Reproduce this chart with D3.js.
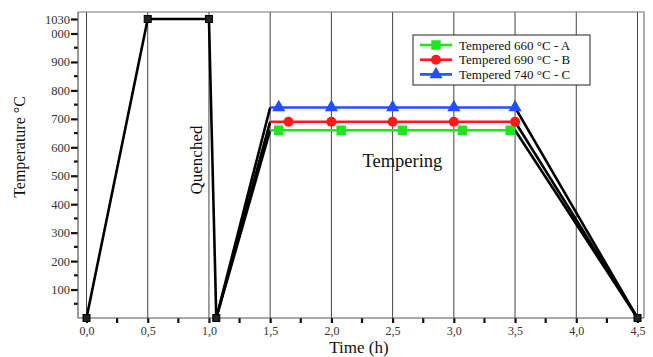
<!DOCTYPE html>
<html>
<head>
<meta charset="utf-8">
<script src="https://cdn.jsdelivr.net/npm/d3@7"></script>
<style>
  body { margin: 0; background: #fff; }
  svg { display: block; font-family: "Liberation Serif", "DejaVu Serif", serif; }
  .tick text { font-family: "Liberation Serif", "DejaVu Serif", serif; }
</style>
</head>
<body>
<div id="chart"></div>
<script>
// furnace profile (black line): heat up, soak, quench
var baseTime = [0, 0.5, 1.0, 1.06];
var baseTemp = [0, 1030, 1030, 0];
// tempering series
var seriesNames = ['Tempered 660 °C - A', 'Tempered 690 °C - B', 'Tempered 740 °C - C'];
var seriesTemps = [660, 690, 740];
var seriesColors = ['#1ee61e', '#ff1a1a', '#1f4fff'];
var seriesShapes = ['square', 'circle', 'triangle'];
var temperStart = 1.5, temperEnd = 3.5, coolEnd = 4.5;
var markerTimes = [
  [1.57, 2.08, 2.58, 3.07, 3.46],
  [1.65, 2.0, 2.5, 3.0, 3.5],
  [1.57, 2.0, 2.5, 3.0, 3.5]
];
// axis ticks
var xTicks = [0, 0.5, 1.0, 1.5, 2.0, 2.5, 3.0, 3.5, 4.0, 4.5];
var xMinor = [0.25, 0.75, 1.25, 1.75, 2.25, 2.75, 3.25, 3.75, 4.25];
var yTicks = [100, 200, 300, 400, 500, 600, 700, 800, 900, 1000, 1030];
var yMinor = [50, 150, 250, 350, 450, 550, 650, 750, 850, 950];

var W = 653, H = 357;
var pLeft = 78, pRight = 644, pTop = 12, pBottom = 318;

var svg = d3.select('#chart').append('svg')
  .attr('width', W).attr('height', H);
svg.append('rect').attr('width', W).attr('height', H).attr('fill', '#fff');

var x = d3.scaleLinear().domain([0, 4.5]).range([86.5, 637.5]);
// top of the axis is stretched in the original (1030 sits above 1000 more than it should)
var y = d3.scaleLinear().domain([0, 1000, 1030, 1044]).range([pBottom, 33.5, 19, pTop]);

// vertical gridlines
svg.append('g').selectAll('line').data(xTicks).join('line')
  .attr('x1', function(d){return x(d);}).attr('x2', function(d){return x(d);})
  .attr('y1', pTop).attr('y2', pBottom)
  .attr('stroke', '#444').attr('stroke-width', 1);

// frame top + right
svg.append('path')
  .attr('d', 'M' + pLeft + ',' + pTop + 'H' + pRight + 'V' + pBottom)
  .attr('fill', 'none').attr('stroke', '#777').attr('stroke-width', 1.2);

// x axis
var xAxis = svg.append('g').attr('transform', 'translate(0,' + pBottom + ')')
  .call(d3.axisBottom(x).tickValues(xTicks).tickSize(5).tickPadding(3)
    .tickFormat(function(d){return d3.format('.1f')(d).replace('.', ',');}));
xAxis.attr('font-family', null);
xAxis.select('.domain').remove();
xAxis.selectAll('.tick line').attr('stroke', '#111').attr('stroke-width', 2.2);
xAxis.selectAll('.tick text').attr('font-size', 12).attr('fill', '#333');
svg.append('g').selectAll('line').data(xMinor).join('line')
  .attr('x1', function(d){return x(d);}).attr('x2', function(d){return x(d);})
  .attr('y1', pBottom).attr('y2', pBottom + 5)
  .attr('stroke', '#111').attr('stroke-width', 2.2);
svg.append('line').attr('x1', pLeft).attr('x2', pRight).attr('y1', pBottom).attr('y2', pBottom)
  .attr('stroke', '#555').attr('stroke-width', 1.2);

// y axis
var yAxis = svg.append('g').attr('transform', 'translate(' + pLeft + ',0)')
  .call(d3.axisLeft(y).tickValues(yTicks).tickSize(7).tickPadding(1).tickFormat(d3.format('d')));
yAxis.attr('font-family', null);
yAxis.select('.domain').remove();
yAxis.selectAll('.tick line').attr('stroke', '#111').attr('stroke-width', 2.2);
yAxis.selectAll('.tick text').attr('font-size', 12.5).attr('fill', '#333');
// the "1" of 1000 is hidden in the original
yAxis.append('defs').append('clipPath').attr('id', 'cut1000')
  .append('rect').attr('x', -26.5).attr('y', -20).attr('width', 26.5).attr('height', 40);
yAxis.selectAll('.tick').filter(function(d){return d == 1000;}).select('text')
  .attr('clip-path', 'url(#cut1000)');
svg.append('g').selectAll('line').data(yMinor).join('line')
  .attr('x1', pLeft - 4).attr('x2', pLeft)
  .attr('y1', function(d){return y(d);}).attr('y2', function(d){return y(d);})
  .attr('stroke', '#111').attr('stroke-width', 2.2);
svg.append('line').attr('x1', pLeft).attr('x2', pLeft).attr('y1', pTop).attr('y2', pBottom)
  .attr('stroke', '#555').attr('stroke-width', 1.2);

var line = d3.line().x(function(d){return x(d[0]);}).y(function(d){return y(d[1]);});

// black profile lines
var blackLines = [d3.zip(baseTime, baseTemp)];
seriesTemps.forEach(function(t){
  blackLines.push([[baseTime[baseTime.length-1], 0], [temperStart, t]]);
  blackLines.push([[temperEnd, t], [coolEnd, 0]]);
});
svg.append('g').selectAll('path').data(blackLines).join('path')
  .attr('d', line).attr('fill', 'none')
  .attr('stroke', '#000').attr('stroke-width', 2.6).attr('stroke-linejoin', 'round');

var blackPts = d3.zip(baseTime, baseTemp).concat([[coolEnd, 0]]);
svg.append('g').selectAll('rect').data(blackPts).join('rect')
  .attr('x', function(d){return x(d[0]) - 3.5;}).attr('y', function(d){return y(d[1]) - 3.5;})
  .attr('width', 7).attr('height', 7)
  .attr('fill', '#222').attr('stroke', '#000').attr('stroke-width', 1);

// marker symbols
function symbolPath(shape) {
  if (shape == 'square') return d3.symbol(d3.symbolSquare, 90)();
  if (shape == 'circle') return d3.symbol(d3.symbolCircle, 80)();
  return d3.symbol(d3.symbolTriangle, 75)();
}

// coloured tempering lines
seriesTemps.forEach(function(t, i){
  var g = svg.append('g');
  g.append('path').datum([[temperStart, t], [temperEnd, t]])
    .attr('d', line).attr('fill', 'none')
    .attr('stroke', seriesColors[i]).attr('stroke-width', 2.6);
  g.selectAll('path.m').data(markerTimes[i]).join('path').attr('class', 'm')
    .attr('d', symbolPath(seriesShapes[i]))
    .attr('transform', function(d){return 'translate(' + x(d) + ',' + y(t) + ')';})
    .attr('fill', seriesColors[i]);
});

// annotations
svg.append('text').attr('transform', 'translate(' + (x(1.0) - 7) + ',' + 160 + ') rotate(-90)')
  .attr('text-anchor', 'middle').attr('font-size', 17).attr('fill', '#111').text('Quenched');
svg.append('text').attr('x', x(2.58)).attr('y', 167)
  .attr('text-anchor', 'middle').attr('font-size', 18.5).attr('fill', '#111').text('Tempering');

// axis titles
svg.append('text').attr('x', 359).attr('y', 353)
  .attr('text-anchor', 'middle').attr('font-size', 17).attr('fill', '#111').text('Time (h)');
svg.append('text').attr('transform', 'translate(25,147) rotate(-90)')
  .attr('text-anchor', 'middle').attr('font-size', 16).attr('fill', '#111').text('Temperature °C');

// legend
var lg = svg.append('g').attr('transform', 'translate(413,35)');
lg.append('rect').attr('width', 177).attr('height', 50)
  .attr('fill', '#fff').attr('stroke', '#222').attr('stroke-width', 1);
seriesNames.forEach(function(name, i){
  var ry = 10 + i * 14.7;
  lg.append('line').attr('x1', 7).attr('x2', 39).attr('y1', ry).attr('y2', ry)
    .attr('stroke', seriesColors[i]).attr('stroke-width', 2.6);
  lg.append('path').attr('d', symbolPath(seriesShapes[i]))
    .attr('transform', 'translate(23,' + ry + ')').attr('fill', seriesColors[i]);
  lg.append('text').attr('x', 46).attr('y', ry + 4.5)
    .attr('font-size', 13).attr('fill', '#111').text(name);
});
</script>
</body>
</html>
